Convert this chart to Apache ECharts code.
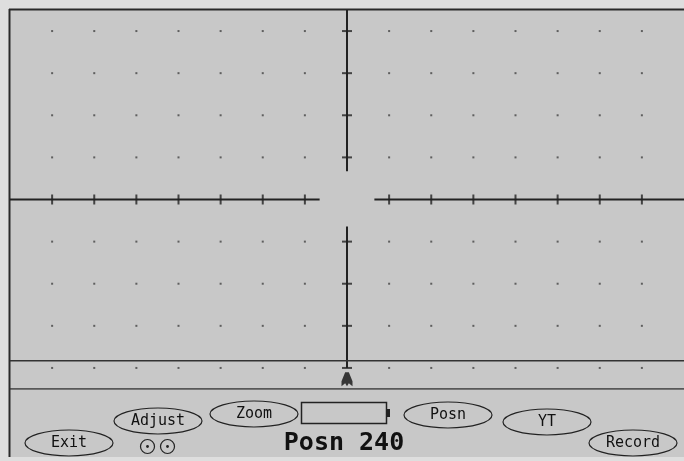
<!DOCTYPE html>
<html>
<head>
<meta charset="utf-8">
<script src="https://cdn.jsdelivr.net/npm/echarts@6/dist/echarts.min.js"></script>
<style>
html,body{margin:0;padding:0;background:#dedede;}
#c{width:684px;height:461px;}
</style>
</head>
<body>
<div id="c"></div>
<script>
// Graticule divisions (screen units)
const xRange = [-8, 8];
const yRange = [-4.5, 4.5];
const dotCols = [-7, -6, -5, -4, -3, -2, -1, 1, 2, 3, 4, 5, 6, 7];
const dotRows = [4, 3, 2, 1, -1, -2, -3, -4];
const hAxisSegments = [[-8, -0.65], [0.65, 8]];
const vAxisSegments = [[4.5, 0.67], [-0.64, -4]];
const hTicks = [-7, -6, -5, -4, -3, -2, -1, 1, 2, 3, 4, 5, 6, 7];
const vTicks = [4, 3, 2, 1, -1, -2, -3, -4];
const cursorLevel = -3.83;
const triggerPos = [0, -4.27];
const buttons = [
  {label: 'Exit', cx: 69, cy: 443},
  {label: 'Adjust', cx: 158, cy: 421},
  {label: 'Zoom', cx: 254, cy: 414},
  {label: 'Posn', cx: 448, cy: 415},
  {label: 'YT', cx: 547, cy: 422},
  {label: 'Record', cx: 633, cy: 443}
];
const statusText = 'Posn 240';

const dots = [];
dotCols.forEach(x => dotRows.forEach(y => dots.push([x, y])));

const series = [];
series.push({type: 'scatter', data: dots, symbol: 'rect', symbolSize: 2,
  itemStyle: {color: '#444'}, silent: true, z: 2});
hAxisSegments.forEach(s => series.push({type: 'line', data: [[s[0], 0], [s[1], 0]],
  symbol: 'none', lineStyle: {color: '#222', width: 2}, silent: true, z: 3}));
vAxisSegments.forEach(s => series.push({type: 'line', data: [[0, s[0]], [0, s[1]]],
  symbol: 'none', lineStyle: {color: '#222', width: 2}, silent: true, z: 3}));
series.push({type: 'scatter', data: hTicks.map(x => [x, 0]), symbol: 'rect', symbolSize: [2, 10],
  itemStyle: {color: '#222'}, silent: true, z: 4});
series.push({type: 'scatter', data: vTicks.map(y => [0, y]), symbol: 'rect', symbolSize: [10, 2],
  itemStyle: {color: '#222'}, silent: true, z: 4});
series.push({type: 'line', data: [[xRange[0], cursorLevel], [xRange[1], cursorLevel]],
  symbol: 'none', lineStyle: {color: '#333', width: 1.5}, silent: true, z: 3});
series.push({type: 'line', data: [[xRange[0], yRange[0]], [xRange[1], yRange[0]]],
  symbol: 'none', lineStyle: {color: '#333', width: 1.5}, silent: true, z: 3});
series.push({type: 'scatter', data: [triggerPos],
  symbol: 'path://M4,0 L8,0 L12,9 L12,14 L8,11 L6,14 L4,11 L0,14 L0,9 Z', symbolSize: [11, 14],
  itemStyle: {color: '#111'}, silent: true, z: 5});

const graphic = [
  {type: 'rect', shape: {x: 10, y: 10, width: 674, height: 447}, style: {fill: '#c8c8c8'}, z: -10},
  {type: 'line', shape: {x1: 9, y1: 9.5, x2: 684, y2: 9.5}, style: {stroke: '#2a2a2a', lineWidth: 2}},
  {type: 'line', shape: {x1: 9.5, y1: 9, x2: 9.5, y2: 457}, style: {stroke: '#2a2a2a', lineWidth: 2}}
];
buttons.forEach(b => {
  graphic.push({type: 'ellipse', shape: {cx: b.cx, cy: b.cy, rx: 44, ry: 13},
    style: {fill: 'none', stroke: '#222', lineWidth: 1.2}});
  graphic.push({type: 'text', x: b.cx, y: b.cy,
    style: {text: b.label, fill: '#111', font: '15px "DejaVu Sans Mono"', align: 'center', verticalAlign: 'middle'}});
});
graphic.push({type: 'rect', shape: {x: 301.5, y: 402.5, width: 85, height: 21},
  style: {fill: 'none', stroke: '#222', lineWidth: 1.5}});
graphic.push({type: 'rect', shape: {x: 387, y: 409, width: 3, height: 8}, style: {fill: '#222'}});
[147.5, 167.5].forEach(cx => {
  graphic.push({type: 'circle', shape: {cx: cx, cy: 446.5, r: 7}, style: {fill: 'none', stroke: '#222', lineWidth: 1.2}});
  graphic.push({type: 'circle', shape: {cx: cx, cy: 446.5, r: 1.4}, style: {fill: '#222'}});
});
graphic.push({type: 'text', x: 344, y: 443,
  style: {text: statusText, fill: '#111', font: 'bold 25px "DejaVu Sans Mono"', align: 'center', verticalAlign: 'middle'}});

const chart = echarts.init(document.getElementById('c'), null, {renderer: 'canvas'});
chart.setOption({
  backgroundColor: '#dedede',
  animation: false,
  grid: {left: 10, top: 10, width: 674, height: 379},
  xAxis: {type: 'value', min: xRange[0], max: xRange[1], show: false},
  yAxis: {type: 'value', min: yRange[0], max: yRange[1], show: false},
  graphic: graphic,
  series: series
});
</script>
</body>
</html>
